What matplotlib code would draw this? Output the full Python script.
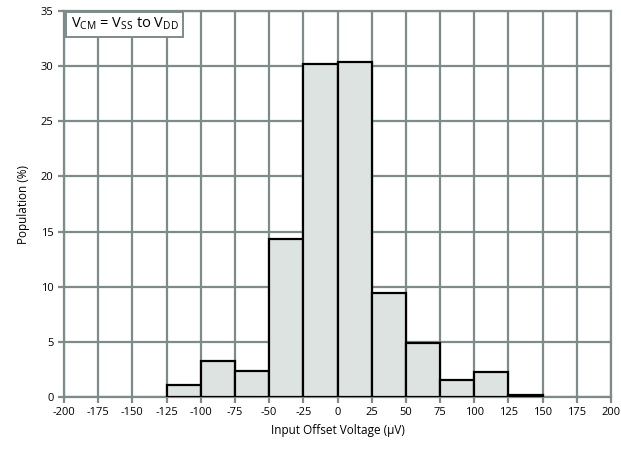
import numpy as np
import matplotlib
matplotlib.use("Agg")
import matplotlib.pyplot as plt

plt.rcParams['font.family'] = ['Open Sans', 'DejaVu Sans']
plt.rcParams['mathtext.default'] = 'regular'
plt.rcParams['axes.unicode_minus'] = False

# === histogram data ===
bin_left = [-125, -100, -75, -50, -25, 0, 25, 50, 75, 100, 125]
population = [1.1, 3.3, 2.4, 14.3, 30.2, 30.4, 9.4, 4.9, 1.5, 2.3, 0.2]
bin_width = 25
x_ticks = list(range(-200, 201, 25))
y_ticks = list(range(0, 36, 5))

grid_color = '#7d8c8a'

fig = plt.figure(figsize=(6.21, 4.49), dpi=100)
ax = fig.add_axes([64 / 621, 52 / 449, 547 / 621, 386 / 449])

ax.bar(bin_left, population, width=bin_width, align='edge',
       color='#dce3e0', edgecolor='black', linewidth=1.6, zorder=3)

ax.set_xlim(-200, 200)
ax.set_ylim(0, 35)
ax.set_xticks(x_ticks)
ax.set_yticks(y_ticks)
ax.grid(True, color=grid_color, linewidth=1.6, zorder=0)
ax.set_axisbelow(True)
for s in ax.spines.values():
    s.set_color(grid_color)
    s.set_linewidth(1.6)
ax.tick_params(axis='both', colors=grid_color, width=1.6, length=4,
               labelcolor='black', labelsize=8)

ax.set_xlabel('Input Offset Voltage (\u00b5V)', fontsize=8.5, labelpad=4)
ax.set_ylabel('Population (%)', fontsize=8.5, labelpad=8)

ax.text(-195, 33.8, r'V$_{CM}$ = V$_{SS}$ to V$_{DD}$', fontsize=10.5,
        va='center', ha='left', zorder=5,
        bbox=dict(boxstyle='square,pad=0.3', facecolor='white',
                  edgecolor=grid_color, linewidth=1.4))

fig.savefig('out.png', dpi=100)
